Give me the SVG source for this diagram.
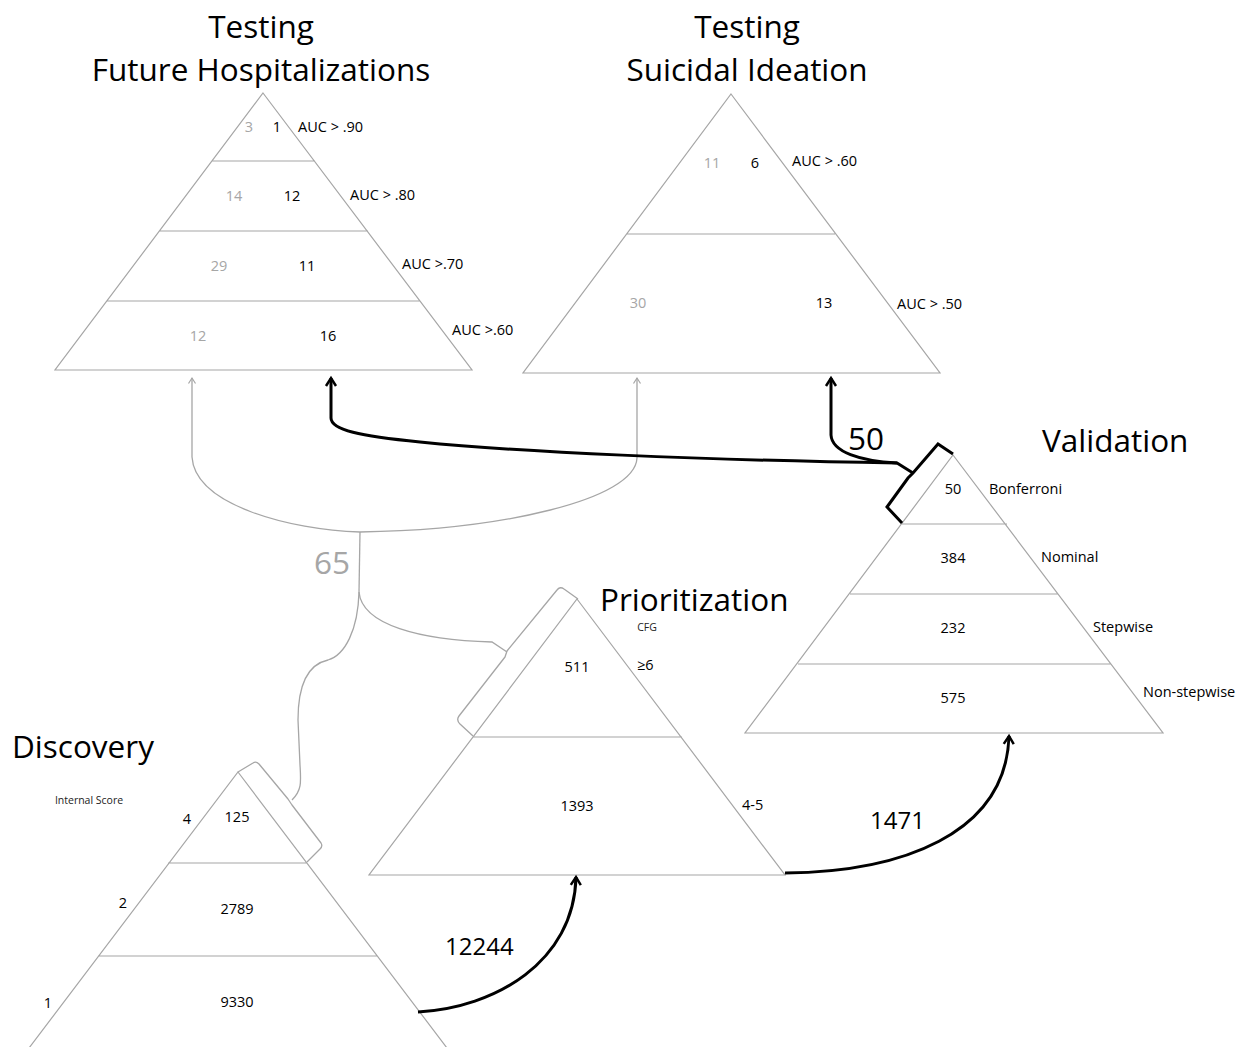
<svg xmlns="http://www.w3.org/2000/svg" width="1239" height="1047" viewBox="0 0 1239 1047">
<style>
text{font-family:"Open Sans","Liberation Sans",sans-serif;}
.title{font-size:31.5px;fill:#000;}
.big{font-size:31.5px;}
.num{font-size:14.5px;fill:#000;text-anchor:middle;}
.gnum{font-size:14.5px;fill:#a6a6a6;text-anchor:middle;}
.lbl{font-size:14.5px;fill:#000;}
.small{font-size:10.5px;fill:#222;}
.pyr{fill:none;stroke:#a6a6a6;stroke-width:1.2;}
.gcon{fill:none;stroke:#a6a6a6;stroke-width:1.3;}
.bcon{fill:none;stroke:#000;stroke-width:3;}
.gbr{fill:none;stroke:#a6a6a6;stroke-width:1.3;stroke-linejoin:round;}
.bbr{fill:none;stroke:#000;stroke-width:3;stroke-linejoin:miter;}
</style>
<defs>
<marker id="ab" markerUnits="userSpaceOnUse" markerWidth="14" markerHeight="14" refX="9" refY="6" orient="auto" overflow="visible">
<path d="M1,1 L9,6 L1,11" fill="none" stroke="#000" stroke-width="2.5"/>
</marker>
<marker id="ag" markerUnits="userSpaceOnUse" markerWidth="10" markerHeight="10" refX="6" refY="4" orient="auto" overflow="visible">
<path d="M0.5,0.5 L6,4 L0.5,7.5" fill="none" stroke="#a6a6a6" stroke-width="1.2"/>
</marker>
</defs>
<rect width="1239" height="1047" fill="#fff"/>

<g id="title-fh">
<text class="title" x="261" y="38" text-anchor="middle">Testing</text>
<text class="title" x="261" y="81" text-anchor="middle">Future Hospitalizations</text>
</g>
<g id="title-si">
<text class="title" x="747" y="38" text-anchor="middle">Testing</text>
<text class="title" x="747" y="81" text-anchor="middle">Suicidal Ideation</text>
</g>

<g id="pyramid-fh">
<path class="pyr" d="M263,93 L472,370 L55,370 Z M212,161 L315,161 M159,231 L368,231 M107,301 L420,301"/>
<text class="gnum" x="249" y="132">3</text>
<text class="num" x="277" y="132">1</text>
<text class="lbl" x="298" y="132">AUC &gt; .90</text>
<text class="gnum" x="234" y="201">14</text>
<text class="num" x="292" y="201">12</text>
<text class="lbl" x="350" y="200">AUC &gt; .80</text>
<text class="gnum" x="219" y="271">29</text>
<text class="num" x="307" y="271">11</text>
<text class="lbl" x="402" y="269">AUC &gt;.70</text>
<text class="gnum" x="198" y="341">12</text>
<text class="num" x="328" y="341">16</text>
<text class="lbl" x="452" y="335">AUC &gt;.60</text>
</g>

<g id="pyramid-si">
<path class="pyr" d="M731,94 L940,373 L523,373 Z M627,234 L835,234"/>
<text class="gnum" x="712" y="168">11</text>
<text class="num" x="755" y="168">6</text>
<text class="lbl" x="792" y="166">AUC &gt; .60</text>
<text class="gnum" x="638" y="308">30</text>
<text class="num" x="824" y="308">13</text>
<text class="lbl" x="897" y="309">AUC &gt; .50</text>
</g>

<g id="pyramid-validation">
<text class="title" x="1042" y="452">Validation</text>
<path class="pyr" d="M953,455 L1163,733 L745,733 Z M902,524 L1007,524 M850,594 L1058,594 M798,664 L1111,664"/>
<text class="num" x="953" y="494">50</text>
<text class="lbl" x="989" y="494">Bonferroni</text>
<text class="num" x="953" y="563">384</text>
<text class="lbl" x="1041" y="562">Nominal</text>
<text class="num" x="953" y="633">232</text>
<text class="lbl" x="1093" y="632">Stepwise</text>
<text class="num" x="953" y="703">575</text>
<text class="lbl" x="1143" y="697">Non-stepwise</text>
<path class="bbr" d="M953,454 L938,444 L913,473 L908,478 L887,507 L902,523"/>
</g>

<g id="pyramid-prioritization">
<text class="title" x="600" y="611">Prioritization</text>
<path class="pyr" d="M577,599 L785,875 L369,875 Z M473,737 L682,737"/>
<text class="small" x="647" y="631" text-anchor="middle">CFG</text>
<text class="num" x="577" y="672">511</text>
<text class="lbl" x="637" y="670">≥6</text>
<text class="num" x="577" y="811">1393</text>
<text class="lbl" x="742" y="810">4-5</text>
<path class="gbr" d="M578,599 L564,589 Q560,586 557,590 L507,651 L505,657 L459,716 Q456,720 460,724 L473,736"/>
</g>

<g id="pyramid-discovery">
<text class="title" x="12" y="758">Discovery</text>
<text class="small" x="89" y="804" text-anchor="middle">Internal Score</text>
<path class="pyr" d="M238,772 L450,1052 L26,1052 Z M168,863 L307,863 M98,956 L377,956"/>
<text class="lbl" x="187" y="824" text-anchor="middle">4</text>
<text class="num" x="237" y="822">125</text>
<text class="lbl" x="123" y="908" text-anchor="middle">2</text>
<text class="num" x="237" y="914">2789</text>
<text class="lbl" x="48" y="1008" text-anchor="middle">1</text>
<text class="num" x="237" y="1007">9330</text>
<path class="gbr" d="M238,772 L253,763 Q256,761 259,764 L288,799 L292,805 L321,843 Q323,846 320,849 L307,862"/>
</g>

<g id="connectors">
<path class="gcon" marker-end="url(#ag)" d="M360,532 C290,530 195,505 192,457 L192,378"/>
<path class="gcon" marker-end="url(#ag)" d="M360,532 C500,530 635,500 637,458 L637,378"/>
<path class="gcon" d="M360,532 L359,592"/>
<path class="gcon" d="M359,592 C362,625 420,640 492,642 L507,652"/>
<path class="gcon" d="M359,592 C358,630 345,655 328,660 C305,665 298,690 298,720 L300,765 C301,782 302,790 292,800"/>
<text class="big" x="314" y="574" fill="#a6a6a6">65</text>
<path class="bcon" marker-end="url(#ab)" d="M913,473 L897,463 C700,460 520,452 420,442 C360,436 331,430 331,418 L331,378"/>
<path class="bcon" marker-end="url(#ab)" d="M897,463 C860,461 832,452 831,435 L831,378"/>
<text class="big" x="848" y="450" fill="#000">50</text>
<path class="bcon" marker-end="url(#ab)" d="M418,1012 C495,1008 574,962 576,877"/>
<text class="big" x="445" y="955" fill="#000" style="font-size:24px">12244</text>
<path class="bcon" marker-end="url(#ab)" d="M785,873 C900,872 1006,835 1009,736"/>
<text class="big" x="870" y="829" fill="#000" style="font-size:24px">1471</text>
</g>
</svg>
